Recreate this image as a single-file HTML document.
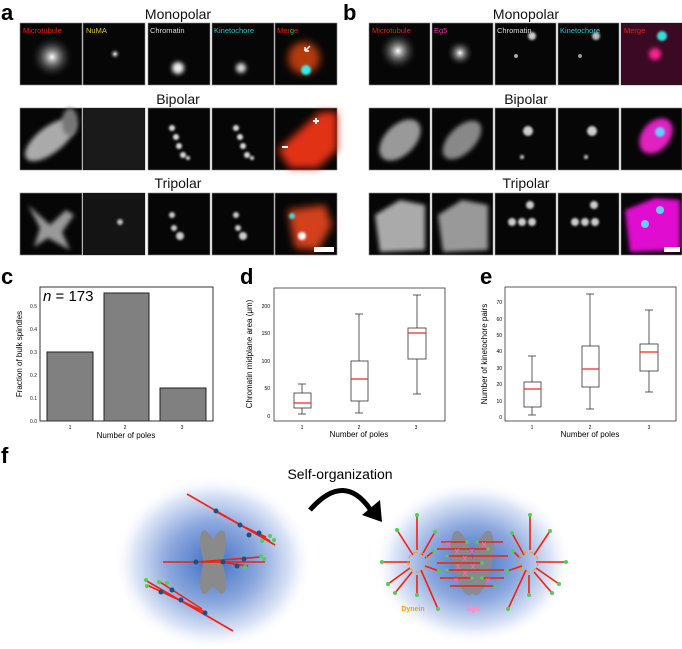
<!DOCTYPE html>
<html><head><meta charset="utf-8"><style>
html,body{margin:0;padding:0;background:#fff}
svg{display:block}
text{font-family:"Liberation Sans",sans-serif}
</style></head><body>
<svg width="682" height="649" viewBox="0 0 682 649" xmlns="http://www.w3.org/2000/svg">
<defs>
<filter id="b2" x="-50%" y="-50%" width="200%" height="200%"><feGaussianBlur stdDeviation="2"/></filter>
<filter id="b4" x="-50%" y="-50%" width="200%" height="200%"><feGaussianBlur stdDeviation="4"/></filter>
<filter id="b1" x="-50%" y="-50%" width="200%" height="200%"><feGaussianBlur stdDeviation="1"/></filter>
<radialGradient id="gl"><stop offset="0" stop-color="#fff"/><stop offset="0.15" stop-color="#bbb"/><stop offset="1" stop-color="#000" stop-opacity="0"/></radialGradient>
<radialGradient id="blob"><stop offset="0" stop-color="#3f6fc4"/><stop offset="0.45" stop-color="#8aa6dd"/><stop offset="0.8" stop-color="#dfe7f7"/><stop offset="1" stop-color="#fff" stop-opacity="0"/></radialGradient>
</defs>

<g font-weight="bold" font-size="22" fill="#000">
<text x="1" y="20">a</text><text x="343" y="20">b</text>
<text x="1" y="284">c</text><text x="240" y="284">d</text><text x="480" y="284">e</text>
<text x="1" y="463">f</text>
</g>
<g font-size="14" text-anchor="middle" fill="#111">
<text x="178" y="19">Monopolar</text><text x="178" y="104">Bipolar</text><text x="178" y="188">Tripolar</text>
<text x="526" y="19">Monopolar</text><text x="526" y="104">Bipolar</text><text x="526" y="188">Tripolar</text>
</g>

<g fill="#060606" stroke="#888" stroke-width="0.6">
<rect x="20" y="23" width="62" height="62"/><rect x="83" y="23" width="62" height="62"/><rect x="148" y="23" width="62" height="62"/><rect x="212" y="23" width="62" height="62"/><rect x="275" y="23" width="62" height="62"/>
<rect x="20" y="108" width="62" height="62"/><rect x="83" y="108" width="62" height="62"/><rect x="148" y="108" width="62" height="62"/><rect x="212" y="108" width="62" height="62"/><rect x="275" y="108" width="62" height="62"/>
<rect x="20" y="193" width="62" height="62"/><rect x="83" y="193" width="62" height="62"/><rect x="148" y="193" width="62" height="62"/><rect x="212" y="193" width="62" height="62"/><rect x="275" y="193" width="62" height="62"/>
<rect x="369" y="23" width="61" height="62"/><rect x="432" y="23" width="61" height="62"/><rect x="495" y="23" width="61" height="62"/><rect x="558" y="23" width="61" height="62"/><rect x="621" y="23" width="61" height="62"/>
<rect x="369" y="108" width="61" height="62"/><rect x="432" y="108" width="61" height="62"/><rect x="495" y="108" width="61" height="62"/><rect x="558" y="108" width="61" height="62"/><rect x="621" y="108" width="61" height="62"/>
<rect x="369" y="193" width="61" height="62"/><rect x="432" y="193" width="61" height="62"/><rect x="495" y="193" width="61" height="62"/><rect x="558" y="193" width="61" height="62"/><rect x="621" y="193" width="61" height="62"/>
</g>

<circle cx="52" cy="57" r="22" fill="url(#gl)"/>
<circle cx="115" cy="54" r="6" fill="url(#gl)"/>
<circle cx="178" cy="68" r="6" fill="#eee" filter="url(#b2)"/>
<circle cx="241" cy="68" r="5" fill="#ddd" filter="url(#b2)"/>
<circle cx="304" cy="58" r="16" fill="#b43a10" filter="url(#b4)"/>
<circle cx="306" cy="70" r="5" fill="#3ee" filter="url(#b1)"/>
<path d="M310 46 l-5 5 M305 51 h4 M305 51 v-4" stroke="#fff" stroke-width="1.5"/>
<ellipse cx="50" cy="140" rx="30" ry="13" transform="rotate(-38 50 140)" fill="#aaa" filter="url(#b2)"/>
<ellipse cx="70" cy="122" rx="8" ry="14" fill="#777" filter="url(#b2)"/>
<rect x="83" y="108" width="62" height="62" fill="#1a1a1a"/>
<g fill="#ddd" filter="url(#b1)"><circle cx="172" cy="128" r="3"/><circle cx="176" cy="137" r="3"/><circle cx="179" cy="146" r="3"/><circle cx="183" cy="155" r="3"/><circle cx="188" cy="158" r="2"/>
<circle cx="236" cy="128" r="3"/><circle cx="240" cy="137" r="3"/><circle cx="243" cy="146" r="3"/><circle cx="247" cy="155" r="3"/><circle cx="252" cy="158" r="2"/></g>
<path d="M278 150 L320 112 L337 112 L337 150 L318 168 L290 168 Z" fill="#e23316" filter="url(#b4)"/>
<path d="M316 124 v-6 M313 121 h6 M282 147 h6" stroke="#fff" stroke-width="2"/>
<path d="M28 205 L50 225 L66 210 L74 215 L62 232 L70 250 L48 238 L34 247 L40 228 Z" fill="#999" filter="url(#b2)"/>
<rect x="83" y="193" width="62" height="62" fill="#141414"/>
<circle cx="120" cy="222" r="3" fill="#bbb" filter="url(#b1)"/>
<g fill="#ccc" filter="url(#b1)"><circle cx="172" cy="215" r="3"/><circle cx="174" cy="228" r="3"/><circle cx="180" cy="236" r="4"/><circle cx="236" cy="215" r="3"/><circle cx="238" cy="228" r="3"/><circle cx="243" cy="236" r="4"/></g>
<path d="M288 210 L325 205 L332 225 L318 250 L295 248 Z" fill="#d2401a" filter="url(#b4)"/>
<circle cx="302" cy="236" r="4" fill="#fff" filter="url(#b1)"/>
<circle cx="292" cy="216" r="3" fill="#4dd" filter="url(#b1)"/>
<rect x="314" y="247" width="20" height="5" fill="#fff"/>

<circle cx="398" cy="51" r="20" fill="url(#gl)"/>
<circle cx="460" cy="53" r="14" fill="url(#gl)"/>
<circle cx="532" cy="36" r="4" fill="#ccc" filter="url(#b1)"/><circle cx="516" cy="56" r="2" fill="#aaa"/>
<circle cx="596" cy="36" r="4" fill="#bbb" filter="url(#b1)"/><circle cx="580" cy="56" r="2" fill="#999"/>
<rect x="621" y="23" width="61" height="62" fill="#3a0a22"/>
<circle cx="655" cy="54" r="6" fill="#ff2090" filter="url(#b2)"/>
<circle cx="662" cy="36" r="5" fill="#3dd" filter="url(#b1)"/>
<ellipse cx="400" cy="140" rx="25" ry="15" transform="rotate(-45 400 140)" fill="#999" filter="url(#b2)"/>
<ellipse cx="462" cy="140" rx="24" ry="13" transform="rotate(-45 462 140)" fill="#888" filter="url(#b2)"/>
<g fill="#ccc" filter="url(#b1)"><circle cx="528" cy="131" r="5"/><circle cx="522" cy="157" r="2"/><circle cx="592" cy="131" r="5"/><circle cx="586" cy="157" r="2"/></g>
<ellipse cx="656" cy="136" rx="20" ry="14" transform="rotate(-50 656 136)" fill="#e020c0" filter="url(#b2)"/>
<circle cx="660" cy="132" r="5" fill="#6cf" filter="url(#b1)"/>
<path d="M375 215 L400 200 L425 205 L425 250 L380 252 Z" fill="#aaa" filter="url(#b2)"/>
<path d="M438 215 L462 200 L488 205 L488 250 L443 252 Z" fill="#999" filter="url(#b2)"/>
<g fill="#ccc" filter="url(#b1)"><circle cx="530" cy="205" r="4"/><circle cx="512" cy="222" r="4"/><circle cx="522" cy="222" r="4"/><circle cx="532" cy="222" r="4"/>
<circle cx="594" cy="205" r="4"/><circle cx="575" cy="222" r="4"/><circle cx="585" cy="222" r="4"/><circle cx="595" cy="222" r="4"/></g>
<path d="M625 210 L655 198 L680 200 L680 250 L630 252 Z" fill="#e010d0" filter="url(#b2)"/>
<circle cx="660" cy="210" r="4" fill="#6cf"/><circle cx="645" cy="224" r="4" fill="#6cf"/>
<rect x="664" y="247" width="16" height="5" fill="#fff"/>

<g font-size="7.5">
<text x="23" y="33" fill="#e21">Microtubule</text><text x="86" y="33" fill="#dc2">NuMA</text><text x="150" y="33" fill="#ddd">Chromatin</text><text x="214" y="33" fill="#2cc">Kinetochore</text><text x="277" y="33" fill="#e21">Mer<tspan fill="#3c3">g</tspan>e</text>
<text x="372" y="33" fill="#e21">Microtubule</text><text x="434" y="33" fill="#e3a">Eg5</text><text x="497" y="33" fill="#ddd">Chromatin</text><text x="560" y="33" fill="#2cc">Kinetochore</text><text x="624" y="33" fill="#e21">Merge</text>
</g>

<!-- panel c -->
<g>
<rect x="47" y="352" width="46" height="69" fill="#808080" stroke="#222" stroke-width="1"/>
<rect x="104" y="293" width="45" height="128" fill="#808080" stroke="#222" stroke-width="1"/>
<rect x="160" y="388" width="46" height="33" fill="#808080" stroke="#222" stroke-width="1"/>
<rect x="40" y="287" width="173" height="134" fill="none" stroke="#333" stroke-width="1"/>
<g font-size="5" text-anchor="end" fill="#222"><text x="37" y="423">0.0</text><text x="37" y="400">0.1</text><text x="37" y="377">0.2</text><text x="37" y="354">0.3</text><text x="37" y="331">0.4</text><text x="37" y="308">0.5</text></g>
<g font-size="5" text-anchor="middle"><text x="70" y="429">1</text><text x="125" y="429">2</text><text x="182" y="429">3</text></g>
<text x="126" y="438" font-size="8" text-anchor="middle">Number of poles</text>
<text transform="translate(22 354) rotate(-90)" font-size="8" text-anchor="middle">Fraction of bulk spindles</text>
<text x="43" y="301" font-size="15" font-family="Liberation Serif,serif"><tspan font-style="italic">n</tspan> = 173</text>
</g>

<!-- panel d -->
<g stroke="#333" stroke-width="0.8" fill="none">
<rect x="274" y="288" width="171" height="133"/>
<line x1="302" y1="414" x2="302" y2="408"/><line x1="302" y1="393" x2="302" y2="384"/><line x1="298" y1="414" x2="306" y2="414"/><line x1="298" y1="384" x2="306" y2="384"/><rect x="294" y="393" width="17" height="15"/>
<line x1="359" y1="413" x2="359" y2="401"/><line x1="359" y1="361" x2="359" y2="314"/><line x1="355" y1="413" x2="363" y2="413"/><line x1="355" y1="314" x2="363" y2="314"/><rect x="351" y="361" width="17" height="40"/>
<line x1="417" y1="394" x2="417" y2="359"/><line x1="417" y1="328" x2="417" y2="295"/><line x1="413" y1="394" x2="421" y2="394"/><line x1="413" y1="295" x2="421" y2="295"/><rect x="408" y="328" width="18" height="31"/>
</g>
<g stroke="#f22" stroke-width="1.3"><line x1="294" y1="403" x2="311" y2="403"/><line x1="351" y1="379" x2="368" y2="379"/><line x1="408" y1="333" x2="426" y2="333"/></g>
<g font-size="5" text-anchor="end"><text x="270" y="418">0</text><text x="270" y="390">50</text><text x="270" y="363">100</text><text x="270" y="335">150</text><text x="270" y="308">200</text></g>
<g font-size="5" text-anchor="middle"><text x="302" y="429">1</text><text x="359" y="429">2</text><text x="416" y="429">3</text></g>
<text x="359" y="437" font-size="8" text-anchor="middle">Number of poles</text>
<text transform="translate(252 354) rotate(-90)" font-size="8" text-anchor="middle">Chromatin midplane area (μm)</text>

<!-- panel e -->
<g stroke="#333" stroke-width="0.8" fill="none">
<rect x="505" y="287" width="171" height="134"/>
<line x1="532" y1="415" x2="532" y2="407"/><line x1="532" y1="382" x2="532" y2="356"/><line x1="528" y1="415" x2="536" y2="415"/><line x1="528" y1="356" x2="536" y2="356"/><rect x="524" y="382" width="17" height="25"/>
<line x1="590" y1="409" x2="590" y2="387"/><line x1="590" y1="346" x2="590" y2="294"/><line x1="586" y1="409" x2="594" y2="409"/><line x1="586" y1="294" x2="594" y2="294"/><rect x="582" y="346" width="17" height="41"/>
<line x1="649" y1="392" x2="649" y2="371"/><line x1="649" y1="344" x2="649" y2="310"/><line x1="645" y1="392" x2="653" y2="392"/><line x1="645" y1="310" x2="653" y2="310"/><rect x="640" y="344" width="18" height="27"/>
</g>
<g stroke="#f22" stroke-width="1.3"><line x1="524" y1="389" x2="541" y2="389"/><line x1="582" y1="369" x2="599" y2="369"/><line x1="640" y1="352" x2="658" y2="352"/></g>
<g font-size="5" text-anchor="end"><text x="502" y="419">0</text><text x="502" y="403">10</text><text x="502" y="386">20</text><text x="502" y="370">30</text><text x="502" y="353">40</text><text x="502" y="337">50</text><text x="502" y="321">60</text><text x="502" y="304">70</text></g>
<g font-size="5" text-anchor="middle"><text x="532" y="429">1</text><text x="590" y="429">2</text><text x="649" y="429">3</text></g>
<text x="590" y="437" font-size="8" text-anchor="middle">Number of poles</text>
<text transform="translate(487 354) rotate(-90)" font-size="8" text-anchor="middle">Number of kinetochore pairs</text>

<!-- panel f -->
<text x="340" y="479" font-size="14" text-anchor="middle">Self-organization</text>
<path d="M310 510 Q345 470 372 512" stroke="#000" stroke-width="5" fill="none"/>
<path d="M362 515 L382 522 L380 500 Z" fill="#000"/>

<ellipse cx="213" cy="563" rx="100" ry="88" fill="url(#blob)"/>
<g fill="#8a8a8a"><ellipse cx="213" cy="562" rx="9" ry="33" transform="rotate(-17 213 562)"/><ellipse cx="213" cy="562" rx="9" ry="33" transform="rotate(17 213 562)"/></g>
<g stroke="#f2200c" stroke-width="1.6">
<line x1="187" y1="494" x2="275" y2="545"/><line x1="215" y1="511" x2="270" y2="541"/><line x1="240" y1="525" x2="266" y2="537"/>
<line x1="163" y1="562" x2="265" y2="562"/><line x1="196" y1="562" x2="260" y2="557"/><line x1="220" y1="562" x2="248" y2="566"/>
<line x1="145" y1="580" x2="233" y2="631"/><line x1="147" y1="585" x2="205" y2="612"/><line x1="160" y1="582" x2="202" y2="609"/>
</g>
<g fill="#1f4f80"><circle cx="216" cy="511" r="2.5"/><circle cx="240" cy="525" r="2.5"/><circle cx="249" cy="535" r="2.5"/><circle cx="259" cy="533" r="2.5"/><circle cx="196" cy="562" r="2.5"/><circle cx="223" cy="562" r="2.5"/><circle cx="244" cy="559" r="2.5"/><circle cx="237" cy="566" r="2.5"/><circle cx="161" cy="592" r="2.5"/><circle cx="172" cy="590" r="2.5"/><circle cx="181" cy="600" r="2.5"/><circle cx="205" cy="613" r="2.5"/></g>
<g fill="#5c5"><circle cx="270" cy="536" r="2"/><circle cx="274" cy="540" r="2"/><circle cx="262" cy="541" r="2"/><circle cx="261" cy="556" r="2"/><circle cx="264" cy="559" r="2"/><circle cx="245" cy="567" r="2"/><circle cx="146" cy="580" r="2"/><circle cx="147" cy="586" r="2"/><circle cx="159" cy="582" r="2"/><circle cx="167" cy="583" r="2"/></g>

<ellipse cx="473" cy="563" rx="100" ry="82" fill="url(#blob)"/>
<g fill="#8a8a8a" opacity="0.9"><ellipse cx="463" cy="563" rx="10" ry="33" transform="rotate(-12 463 563)"/><ellipse cx="482" cy="563" rx="10" ry="33" transform="rotate(12 482 563)"/></g>
<g stroke="#f2200c" stroke-width="1.6">
<line x1="441" y1="542" x2="467" y2="542"/><line x1="477" y1="542" x2="503" y2="542"/><line x1="437" y1="549" x2="488" y2="549"/><line x1="447" y1="556" x2="508" y2="556"/><line x1="437" y1="563" x2="482" y2="563"/><line x1="447" y1="570" x2="504" y2="570"/><line x1="440" y1="578" x2="472" y2="578"/><line x1="482" y1="578" x2="504" y2="578"/><line x1="450" y1="586" x2="495" y2="586"/>
</g>
<g fill="#5c5"><circle cx="467" cy="542" r="1.8"/><circle cx="477" cy="542" r="1.8"/><circle cx="488" cy="549" r="1.8"/><circle cx="447" cy="556" r="1.8"/><circle cx="482" cy="563" r="1.8"/><circle cx="447" cy="570" r="1.8"/><circle cx="472" cy="578" r="1.8"/><circle cx="482" cy="578" r="1.8"/><circle cx="495" cy="586" r="1.8"/></g>
<g fill="#f6a" font-size="7" font-weight="bold" text-anchor="middle"><text x="448" y="547">X</text><text x="484" y="547">X</text><text x="457" y="554">X</text><text x="472" y="554">X</text><text x="465" y="561">X</text><text x="458" y="569">X</text><text x="473" y="569">X</text><text x="465" y="576">X</text><text x="456" y="583">X</text><text x="488" y="583">X</text></g>

<g stroke="#f2200c" stroke-width="1.6">
<line x1="417" y1="550" x2="417" y2="515"/><line x1="413" y1="555" x2="397" y2="530"/><line x1="422" y1="555" x2="435" y2="532"/><line x1="425" y1="558" x2="434" y2="551"/><line x1="410" y1="562" x2="382" y2="562"/><line x1="425" y1="566" x2="439" y2="571"/><line x1="410" y1="568" x2="388" y2="584"/><line x1="412" y1="572" x2="395" y2="593"/><line x1="417" y1="575" x2="417" y2="595"/><line x1="421" y1="570" x2="438" y2="609"/>
<line x1="530" y1="550" x2="530" y2="515"/><line x1="524" y1="555" x2="512" y2="533"/><line x1="534" y1="555" x2="550" y2="531"/><line x1="520" y1="558" x2="513" y2="551"/><line x1="536" y1="562" x2="566" y2="562"/><line x1="522" y1="566" x2="507" y2="571"/><line x1="536" y1="568" x2="559" y2="584"/><line x1="534" y1="572" x2="552" y2="593"/><line x1="529" y1="575" x2="529" y2="595"/><line x1="526" y1="570" x2="508" y2="609"/>
</g>
<g fill="none" stroke="#f90" stroke-width="1"><circle cx="418" cy="562" r="10" stroke-dasharray="4 3"/><circle cx="528" cy="562" r="10" stroke-dasharray="4 3"/></g>
<g fill="#5c5"><circle cx="417" cy="515" r="2"/><circle cx="397" cy="530" r="2"/><circle cx="435" cy="532" r="2"/><circle cx="434" cy="551" r="2"/><circle cx="382" cy="562" r="2"/><circle cx="439" cy="571" r="2"/><circle cx="388" cy="584" r="2"/><circle cx="395" cy="593" r="2"/><circle cx="417" cy="595" r="2"/><circle cx="438" cy="609" r="2"/>
<circle cx="530" cy="515" r="2"/><circle cx="512" cy="533" r="2"/><circle cx="550" cy="531" r="2"/><circle cx="513" cy="551" r="2"/><circle cx="566" cy="562" r="2"/><circle cx="507" cy="571" r="2"/><circle cx="559" cy="584" r="2"/><circle cx="552" cy="593" r="2"/><circle cx="529" cy="595" r="2"/><circle cx="508" cy="609" r="2"/></g>
<text x="413" y="611" font-size="7" font-weight="bold" fill="#f90" text-anchor="middle">Dynein</text>
<text x="473" y="611" font-size="7" font-weight="bold" fill="#f8b" text-anchor="middle">Eg5</text>
</svg>
</body></html>
